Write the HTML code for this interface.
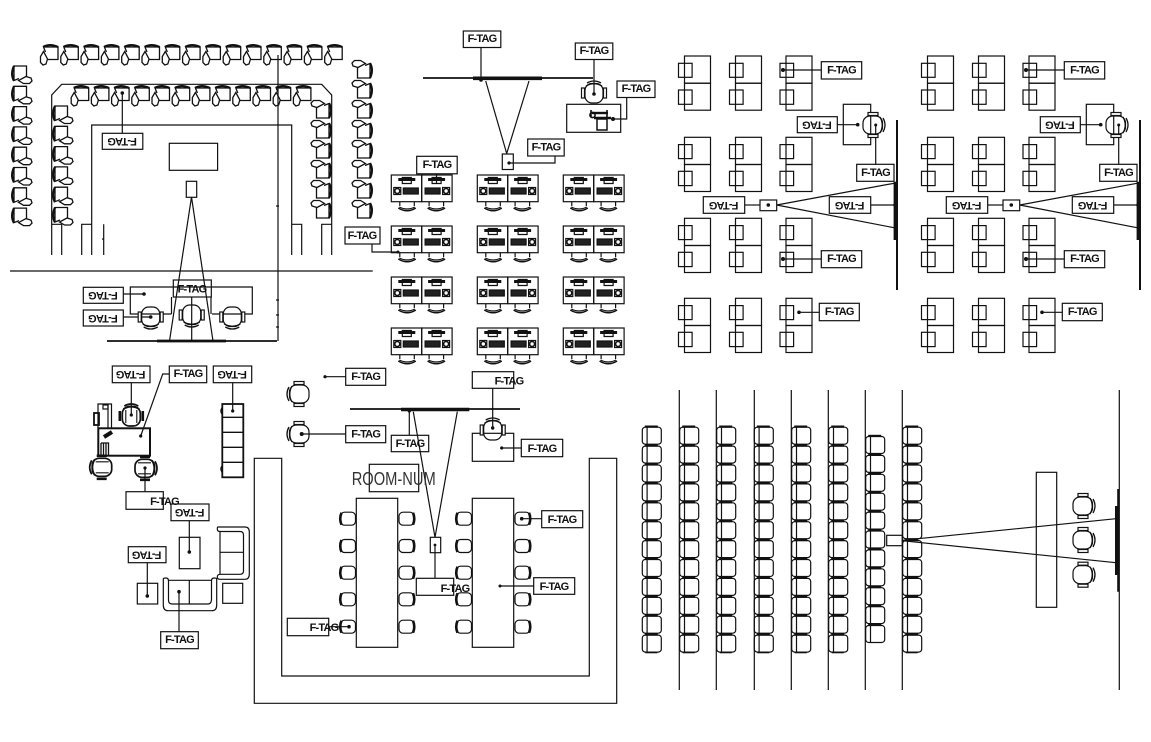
<!DOCTYPE html>
<html><head><meta charset="utf-8"><style>
html,body{margin:0;padding:0;background:#fff}
svg{display:block}
.l{fill:none;stroke:#111;stroke-width:1.2}
.t{font-family:"Liberation Sans",sans-serif;font-weight:700;font-size:11px;letter-spacing:-.8px;fill:#111;stroke:none;text-anchor:middle;dominant-baseline:middle}
.d{fill:#111;stroke:none}
</style></head><body>
<svg xmlns="http://www.w3.org/2000/svg" width="1151" height="742" viewBox="0 0 1151 742">
<defs>
<g id="ct" class="l" style="stroke-width:1.3"><path d="M3 3Q10 -.8 18 3" stroke-width="2.2"/><path d="M3.5 3L5.5 8M4 3H18V15.5H7.5"/><path d="M3.5 7.5L.5 12.5V18.5L3 21 6 20 7.5 15 3.5 7.5Z"/></g>
<g id="cl" transform="translate(0 20) rotate(-90)"><use href="#ct"/></g>
<g id="cr" transform="translate(20 0) rotate(90)"><use href="#ct"/></g>
<g id="cd" class="l"><rect x="-9" y="-10" width="18" height="19.5" rx="7"/><path d="M-8 7Q0 11.5 8 7M-7 10Q0 14 7 10" stroke-width="1.3"/><rect x="-12.5" y="-5" width="3" height="10" fill="#fff"/><rect x="9.5" y="-5" width="3" height="10" fill="#fff"/></g>
<g id="cdb" class="l" style="stroke-width:1.7"><rect x="-9" y="-10" width="18" height="19.5" rx="7"/><path d="M-5.5 -7V6M5.5 -7V6" stroke-width="1.1"/><path d="M-8 7Q0 11.5 8 7M-7 10Q0 14 7 10"/><path d="M-11.5 -5V5M11.5 -5V5" stroke-width="2.6"/></g>
<g id="sc" class="l"><rect x="-7" y="-6.5" width="15" height="13" rx="4"/><path d="M-6 -6Q-8.5 0 -6 6" stroke-width="2.6"/></g>
<g id="tc" class="l"><rect x="0" y="1.5" width="19" height="17" rx="3"/><path d="M4.8 1.5V18.5"/><path d="M2.5 .9H15.5" stroke-width="2.2"/></g>
<g id="col"><use href="#tc"/><use href="#tc" y="18.9"/><use href="#tc" y="37.8"/><use href="#tc" y="56.7"/><use href="#tc" y="75.6"/><use href="#tc" y="94.5"/><use href="#tc" y="113.4"/><use href="#tc" y="132.3"/><use href="#tc" y="151.2"/><use href="#tc" y="170.1"/><use href="#tc" y="189"/><use href="#tc" y="207.9"/><path class="l" d="M3 227H15" stroke-width="2.2"/></g>
<g id="dk" class="l"><rect width="30.4" height="26.7" x="0" y="0"/><path d="M7 4.5H24" stroke-width="3"/><path d="M11 8.5H20V2.5H11Z"/><rect x="12" y="13" width="15" height="6" fill="#222"/><rect x="2.5" y="12.5" width="7" height="7"/><circle cx="6" cy="16" r="2.5" stroke-width="1.6"/><path d="M8.5 27V31M23 27V31M8 32Q16 36 23.5 32"/><path d="M7 33Q16 38.5 24.5 33" stroke-width="1.5"/></g>
<g id="pair"><use href="#dk"/><g transform="translate(60.8 0) scale(-1 1)"><use href="#dk"/></g></g>
<g id="grp"><use href="#pair"/><use href="#pair" y="51"/><use href="#pair" y="102"/><use href="#pair" y="153"/></g>
<g id="sd" class="l"><rect x="0" y="0" width="26" height="27.2"/><rect x="0" y="27.2" width="26" height="27"/><rect x="-6" y="7.3" width="13.6" height="14"/><rect x="-6" y="34" width="13.6" height="14.3"/></g>
<g id="sdg"><use href="#sd" x="684.5" y="56"/><use href="#sd" x="735.5" y="56"/><use href="#sd" x="786" y="56"/><use href="#sd" x="684.5" y="137.3"/><use href="#sd" x="735.5" y="137.3"/><use href="#sd" x="786" y="137.3"/><use href="#sd" x="684.5" y="218.3"/><use href="#sd" x="735.5" y="218.3"/><use href="#sd" x="786" y="218.3"/><use href="#sd" x="684.5" y="298.3"/><use href="#sd" x="735.5" y="298.3"/><use href="#sd" x="786" y="298.3"/></g>
</defs>
<rect width="1151" height="742" fill="#fff"/>

<!-- Section A -->
<use href="#ct" x="40" y="44"/><use href="#ct" x="60.3" y="44"/><use href="#ct" x="80.6" y="44"/><use href="#ct" x="100.9" y="44"/><use href="#ct" x="121.2" y="44"/><use href="#ct" x="141.5" y="44"/><use href="#ct" x="161.8" y="44"/><use href="#ct" x="182.1" y="44"/><use href="#ct" x="202.4" y="44"/><use href="#ct" x="222.7" y="44"/><use href="#ct" x="243" y="44"/><use href="#ct" x="263.3" y="44"/><use href="#ct" x="283.6" y="44"/><use href="#ct" x="303.9" y="44"/><use href="#ct" x="324.2" y="44"/>
<use href="#ct" x="70.7" y="85"/><use href="#ct" x="90.9" y="85"/><use href="#ct" x="111.1" y="85"/><use href="#ct" x="131.3" y="85"/><use href="#ct" x="151.5" y="85"/><use href="#ct" x="171.7" y="85"/><use href="#ct" x="191.9" y="85"/><use href="#ct" x="212.1" y="85"/><use href="#ct" x="232.3" y="85"/><use href="#ct" x="252.5" y="85"/><use href="#ct" x="272.7" y="85"/><use href="#ct" x="292.9" y="85"/>
<use href="#cl" x="11" y="64"/><use href="#cl" x="11" y="84.3"/><use href="#cl" x="11" y="104.6"/><use href="#cl" x="11" y="124.9"/><use href="#cl" x="11" y="145.2"/><use href="#cl" x="11" y="165.5"/><use href="#cl" x="11" y="185.8"/><use href="#cl" x="11" y="206.1"/>
<use href="#cl" x="52" y="104"/><use href="#cl" x="52" y="124.3"/><use href="#cl" x="52" y="144.6"/><use href="#cl" x="52" y="164.9"/><use href="#cl" x="52" y="185.2"/><use href="#cl" x="52" y="205.5"/>
<use href="#cr" x="312" y="100"/><use href="#cr" x="312" y="120"/><use href="#cr" x="312" y="140"/><use href="#cr" x="312" y="160"/><use href="#cr" x="312" y="180"/><use href="#cr" x="312" y="200"/>
<use href="#cr" x="353" y="60"/><use href="#cr" x="353" y="80"/><use href="#cr" x="353" y="100"/><use href="#cr" x="353" y="120"/><use href="#cr" x="353" y="140"/><use href="#cr" x="353" y="160"/><use href="#cr" x="353" y="180"/><use href="#cr" x="353" y="200"/>
<g class="l">
<path d="M51.7 255V95L61.7 84.3H321.7L331.7 95V255"/>
<path d="M91.7 255V125H291.7V255"/>
<path d="M81.7 255V224.3H91.7M51.7 224.3H61.7V255M103.7 224.3V255M102 239H104M291.7 224.3H301.7V255M321.7 255V224.3H331.7"/>
<path d="M10 271H372.7"/>
<path d="M278 55V341M276 206H279M276 300H279M276 315H279M276 327H279"/>
<path d="M107 341H277" stroke-width="1.8"/><path d="M157 341H226" stroke-width="2.8"/>
<rect x="169.3" y="143.3" width="48.3" height="27"/>
<rect x="186.3" y="181.3" width="10.4" height="16"/>
<path d="M191.5 197L169.5 341M191.5 197L213 341M191.7 297V341"/>
<path d="M171.5 314H130.3V287H252.3V314H212M171.5 297V314M211 297V314"/>
<rect x="173.3" y="280" width="38" height="17" fill="none"/>
<rect x="83.3" y="287.3" width="40" height="16"/><rect x="83.3" y="310" width="40" height="16"/>
<path d="M123.3 294H144M123.3 317H150.7"/>
<rect x="102.3" y="133.3" width="40.5" height="16"/><path d="M122.3 133V93"/>
<rect x="345" y="227" width="35" height="17"/><path d="M372 244V252H398"/>
</g>
<use href="#cd" x="150.7" y="317"/><use href="#cd" x="191.7" y="315"/><use href="#cd" x="232.3" y="317"/>
<circle class="d" cx="122.3" cy="93" r="1.8"/><circle class="d" cx="144" cy="294" r="1.8"/><circle class="d" cx="150.7" cy="317" r="1.8"/><circle class="d" cx="398" cy="252" r="1.5"/>
<text class="t" x="192" y="289.5">F-TAG</text>
<text class="t" x="362" y="236">F-TAG</text>
<text class="t" x="122.5" y="141.5" transform="rotate(180 122.5 141.3)">F-TAG</text>
<text class="t" x="103.3" y="295.5" transform="rotate(180 103.3 295.3)">F-TAG</text>
<text class="t" x="103.3" y="318.2" transform="rotate(180 103.3 318)">F-TAG</text>

<!-- Section B -->
<use href="#grp" x="391.3" y="175"/><use href="#grp" x="477.3" y="175"/><use href="#grp" x="563.3" y="175"/>
<g class="l">
<rect x="463.3" y="31" width="37.5" height="16.5"/><path d="M481 47.5V80"/>
<path d="M423 78H593" stroke-width="1.8"/><path d="M473 78.3H542" stroke-width="3.6"/>
<path d="M485.7 81L506.7 153.5M529 81L506.7 153.5"/>
<rect x="502.3" y="154" width="11" height="15.5"/><path d="M509 163H555V156"/>
<rect x="527.7" y="139" width="36.5" height="17"/>
<rect x="575.3" y="43" width="37.5" height="16.5"/><path d="M594 59.5V94"/>
<rect x="566.7" y="104.3" width="54" height="28"/>
<rect x="617" y="81" width="38" height="16.5"/><path d="M626.7 97.5V119H613"/>
<rect x="416.7" y="156.3" width="40.5" height="17.5"/><path d="M436.5 174V184"/>
<path d="M592 113H608" stroke-width="2.4"/><path d="M591 110V117M607 110V117" stroke-width="1.6"/><path d="M594 118H611" stroke-width="2.6"/><path d="M597 119H607V130H597Z" stroke-width="1.5"/>
<circle cx="592.5" cy="115" r="2.6" stroke-width="1.6"/>
</g>
<use href="#cd" transform="translate(594 93) rotate(180)"/>
<circle class="d" cx="481" cy="80" r="1.8"/><circle class="d" cx="594" cy="94" r="1.8"/><circle class="d" cx="509" cy="163" r="1.6"/><circle class="d" cx="613" cy="119" r="2"/>
<text class="t" x="482" y="39.3">F-TAG</text>
<text class="t" x="594" y="51.3">F-TAG</text>
<text class="t" x="636" y="89.3">F-TAG</text>
<text class="t" x="546" y="147.5">F-TAG</text>
<text class="t" x="437" y="165">F-TAG</text>

<!-- Section C -->
<use href="#sdg"/>
<g class="l">
<rect x="821.3" y="61.7" width="40.4" height="17.3"/><path d="M783 70H821.3"/>
<rect x="797.3" y="116.7" width="40" height="16"/><path d="M837.3 124.7H857.7"/>
<rect x="843.3" y="104.3" width="27.4" height="40.4"/>
<path d="M875.7 125V164.3"/><rect x="856.7" y="164.3" width="37.3" height="17"/>
<path d="M897 120V290" stroke-width="2"/><path d="M895.3 181.7V240" stroke-width="3.4"/>
<path d="M776.7 205L894 183.3M776.7 205L894 227.7"/>
<rect x="760" y="200" width="16.7" height="10.7"/><path d="M744.7 205H760"/>
<rect x="703.3" y="196.7" width="41.4" height="16.6"/>
<rect x="829.3" y="196.7" width="41.4" height="16.6"/><path d="M870.7 205H895"/>
<rect x="821.3" y="250.7" width="40.4" height="17"/><path d="M783 259H821.3"/>
<rect x="819.3" y="303.3" width="40" height="17.4"/><path d="M799 312.3H819.3"/>
</g>
<use href="#cd" transform="translate(873 125) rotate(-90)"/>
<circle class="d" cx="783" cy="70" r="2"/><circle class="d" cx="857.7" cy="124.7" r="1.8"/><circle class="d" cx="875.7" cy="125" r="1.5"/><circle class="d" cx="768.3" cy="205" r="1.8"/><circle class="d" cx="895" cy="205" r="1.8"/><circle class="d" cx="783" cy="259" r="2"/><circle class="d" cx="799" cy="312.3" r="1.8"/>
<text class="t" x="841.5" y="70.5">F-TAG</text>
<text class="t" x="875.5" y="173">F-TAG</text>
<text class="t" x="841.5" y="259.3">F-TAG</text>
<text class="t" x="839.3" y="312.2">F-TAG</text>
<text class="t" x="817.3" y="124.9" transform="rotate(180 817.3 124.7)">F-TAG</text>
<text class="t" x="724" y="205.2" transform="rotate(180 724 205)">F-TAG</text>
<text class="t" x="850" y="205.2" transform="rotate(180 850 205)">F-TAG</text>

<!-- Section D -->
<use href="#sdg" x="243"/>
<g transform="translate(243 0)">
<g class="l">
<rect x="821.3" y="61.7" width="40.4" height="17.3"/><path d="M783 70H821.3"/>
<rect x="797.3" y="116.7" width="40" height="16"/><path d="M837.3 124.7H857.7"/>
<rect x="843.3" y="104.3" width="27.4" height="40.4"/>
<path d="M875.7 125V164.3"/><rect x="856.7" y="164.3" width="37.3" height="17"/>
<path d="M897 120V290" stroke-width="2"/><path d="M895.3 181.7V240" stroke-width="3.4"/>
<path d="M776.7 205L894 183.3M776.7 205L894 227.7"/>
<rect x="760" y="200" width="16.7" height="10.7"/><path d="M744.7 205H760"/>
<rect x="703.3" y="196.7" width="41.4" height="16.6"/>
<rect x="829.3" y="196.7" width="41.4" height="16.6"/><path d="M870.7 205H895"/>
<rect x="821.3" y="250.7" width="40.4" height="17"/><path d="M783 259H821.3"/>
<rect x="819.3" y="303.3" width="40" height="17.4"/><path d="M799 312.3H819.3"/>
</g>
<use href="#cd" transform="translate(873 125) rotate(-90)"/>
<circle class="d" cx="783" cy="70" r="2"/><circle class="d" cx="857.7" cy="124.7" r="1.8"/><circle class="d" cx="875.7" cy="125" r="1.5"/><circle class="d" cx="768.3" cy="205" r="1.8"/><circle class="d" cx="895" cy="205" r="1.8"/><circle class="d" cx="783" cy="259" r="2"/><circle class="d" cx="799" cy="312.3" r="1.8"/>
<text class="t" x="841.5" y="70.5">F-TAG</text>
<text class="t" x="875.5" y="173">F-TAG</text>
<text class="t" x="841.5" y="259.3">F-TAG</text>
<text class="t" x="839.3" y="312.2">F-TAG</text>
<text class="t" x="817.3" y="124.9" transform="rotate(180 817.3 124.7)">F-TAG</text>
<text class="t" x="724" y="205.2" transform="rotate(180 724 205)">F-TAG</text>
<text class="t" x="850" y="205.2" transform="rotate(180 850 205)">F-TAG</text>
</g>

<!-- Section E -->
<g class="l">
<rect x="112.3" y="366" width="37.7" height="16.7"/><path d="M131.3 382.7V415"/>
<rect x="169.3" y="366" width="37.4" height="16.7"/><path d="M169.3 374H162.7L140.7 436"/>
<rect x="98.3" y="428.3" width="51.7" height="27.4" stroke-width="2"/>
<path d="M98 428V404H111.5V428M108 404V428"/><rect x="94" y="413" width="5" height="12" stroke-width="1.8"/><rect x="103" y="405" width="5" height="4"/>
<path d="M101 443H108.5V455M101 443V455M103.5 443V455M106 443V455" stroke-width="1.3"/>
<path d="M104 437L112 432" stroke-width="4"/>
<path d="M145 468V491.7"/><rect x="126" y="491.7" width="37.3" height="17.6"/>
<rect x="213.3" y="366" width="38.4" height="16.7"/><path d="M232.7 382.7V411"/>
<rect x="222.3" y="404" width="21" height="73.3" stroke-width="1.8"/><path d="M222.3 417.3H243.3M222.3 432.3H243.3M222.3 447.3H243.3M222.3 462.3H243.3" stroke-width="1.4"/>
<path d="M222 408Q220 411 222 414M222 466Q220 469 222 472" stroke-width="1.5"/>
<rect x="171" y="504" width="38" height="16.7"/><path d="M189.3 520.7V552"/>
<rect x="179.3" y="537.3" width="20.7" height="31.4"/>
<rect x="128.3" y="546.7" width="37.7" height="16"/><path d="M147.3 562.7V596"/>
<rect x="137.3" y="583.3" width="20.4" height="20.7"/>
<path d="M163.3 579V605Q163.3 610.7 168 610.7H212Q216.7 610.7 216.7 605V579Q216.7 578 214 578Q211.5 578 211.5 581V600Q211 604 208 604H172Q168.5 604 168.5 600V581Q168.5 578 166 578Q163.3 578 163.3 579Z"/>
<path d="M168.5 580.3H211.5M189.3 580.3V604"/>
<path d="M218 527H245Q249.3 527 249.3 532V574Q249.3 579.3 245 579.3H220Q217.3 579.3 217.3 577Q217.3 574.3 220 574.3H240Q243.5 574.3 243.5 571V535Q243.5 531.5 240 531.5H220Q217.3 531.5 217.3 529Q217.3 527 218 527Z"/>
<path d="M220 531.5V574.3M220 552.3H243.5"/>
<rect x="222.7" y="583.3" width="20" height="20"/>
<path d="M179 591.7V631.7"/><rect x="160.7" y="631.7" width="37.6" height="17"/>
</g>
<use href="#cdb" transform="translate(131.3 416) rotate(180)"/><use href="#cdb" transform="translate(101.7 467.3) rotate(90)"/><use href="#cdb" transform="translate(145 468.3) rotate(-90)"/>
<circle class="d" cx="131.3" cy="415" r="1.6"/><circle class="d" cx="140.7" cy="436" r="1.6"/><circle class="d" cx="145" cy="468" r="1.6"/><circle class="d" cx="232.7" cy="411" r="1.6"/><circle class="d" cx="189.3" cy="552" r="1.8"/><circle class="d" cx="147.3" cy="596" r="1.8"/><circle class="d" cx="179" cy="591.7" r="1.8"/>
<text class="t" x="188" y="374.3">F-TAG</text>
<text class="t" x="164.5" y="502">F-TAG</text>
<text class="t" x="179.5" y="640">F-TAG</text>
<text class="t" x="131" y="374.5" transform="rotate(180 131 374.3)">F-TAG</text>
<text class="t" x="232.5" y="374.5" transform="rotate(180 232.5 374.3)">F-TAG</text>
<text class="t" x="190" y="512.5" transform="rotate(180 190 512.3)">F-TAG</text>
<text class="t" x="147" y="554.9" transform="rotate(180 147 554.7)">F-TAG</text>

<!-- Section F -->
<g class="l">
<rect x="345.7" y="368.3" width="40" height="17"/><path d="M325 376.7H345.7"/>
<rect x="345.7" y="425.7" width="40" height="17"/><path d="M301.7 434H345.7"/>
<path d="M350 409H520" stroke-width="1.8"/><path d="M401 409.5H469.3" stroke-width="3.4"/>
<rect x="391.3" y="435.3" width="37.4" height="16.4"/><path d="M409.3 410V435.3"/>
<path d="M413.3 411.7L435 537.3M457.3 411.7L435 537.3"/>
<rect x="430.3" y="537.3" width="10.4" height="15.4"/><path d="M435 545V578.3"/>
<rect x="416.3" y="578.3" width="37.4" height="17"/>
<rect x="472.3" y="371.7" width="41.4" height="16.6"/><path d="M492.7 388V428"/>
<rect x="472.3" y="433.3" width="41.4" height="28"/><path d="M501.7 448H521.3"/>
<rect x="521.3" y="439.3" width="41.4" height="17.4"/>
<rect x="369.3" y="464.3" width="49.4" height="27.4"/>
<path d="M281.7 458.3H254.3V703.3H616.7V458.3H589.3V676H281.7Z"/>
<rect x="356.3" y="498.3" width="41.4" height="149"/><rect x="472.3" y="498.3" width="41.4" height="149"/>
<rect x="541.7" y="510.7" width="41" height="17"/><path d="M521.7 518.7H541.7"/>
<rect x="533.7" y="577.7" width="41" height="16.6"/><path d="M500 586H533.7"/>
<rect x="287.3" y="618.3" width="41.4" height="17.4"/><path d="M328.7 626.7H349"/>
</g>
<use href="#cd" transform="translate(299 394) rotate(90)"/><use href="#cd" transform="translate(299 434) rotate(90)"/><use href="#cd" transform="translate(492.7 430) rotate(180)"/>
<use href="#sc" x="347.5" y="518.7"/><use href="#sc" x="347.5" y="546"/><use href="#sc" x="347.5" y="572.7"/><use href="#sc" x="347.5" y="599.3"/><use href="#sc" x="347.5" y="626.7"/>
<use href="#sc" x="463.5" y="518.7"/><use href="#sc" x="463.5" y="546"/><use href="#sc" x="463.5" y="572.7"/><use href="#sc" x="463.5" y="599.3"/><use href="#sc" x="463.5" y="626.7"/>
<use href="#sc" transform="translate(407 518.7) rotate(180)"/><use href="#sc" transform="translate(407 546) rotate(180)"/><use href="#sc" transform="translate(407 572.7) rotate(180)"/><use href="#sc" transform="translate(407 599.3) rotate(180)"/><use href="#sc" transform="translate(407 626.7) rotate(180)"/>
<use href="#sc" transform="translate(523 518.7) rotate(180)"/><use href="#sc" transform="translate(523 546) rotate(180)"/><use href="#sc" transform="translate(523 572.7) rotate(180)"/><use href="#sc" transform="translate(523 599.3) rotate(180)"/><use href="#sc" transform="translate(523 626.7) rotate(180)"/>
<circle class="d" cx="325" cy="376.7" r="1.6"/><circle class="d" cx="301.7" cy="434" r="2"/><circle class="d" cx="409.3" cy="411" r="1.6"/><circle class="d" cx="435" cy="545" r="1.4"/><circle class="d" cx="492.7" cy="428" r="1.7"/><circle class="d" cx="501.7" cy="448" r="1.6"/><circle class="d" cx="521.7" cy="518.7" r="1.8"/><circle class="d" cx="500" cy="586" r="1.5"/><circle class="d" cx="349" cy="626.7" r="1.8"/>
<text class="t" x="365.7" y="377">F-TAG</text>
<text class="t" x="365.7" y="434.5">F-TAG</text>
<text class="t" x="410" y="444">F-TAG</text>
<text class="t" x="455" y="589">F-TAG</text>
<text class="t" x="509" y="381.5">F-TAG</text>
<text class="t" x="542" y="449">F-TAG</text>
<text class="t" x="562" y="520">F-TAG</text>
<text class="t" x="554" y="587">F-TAG</text>
<text class="t" x="324" y="628">F-TAG</text>
<text x="351.7" y="485" textLength="84" lengthAdjust="spacingAndGlyphs" font-family="Liberation Sans, sans-serif" font-size="18.5" fill="#333">ROOM-NUM</text>

<!-- Section G -->
<g class="l">
<path d="M679.3 390V690M716.3 390V690M754.3 390V690M791.3 390V690M828.3 390V690M865.3 390V690M902.3 390V690M1119.3 390V690"/>
<rect x="886.7" y="535.3" width="15.6" height="10.4"/>
<path d="M902 540.3L1116 518.7M902 540.7L1116 562.7"/>
<rect x="1036.3" y="472.3" width="20.4" height="135"/>
<path d="M1118.3 489V591.7" stroke-width="2.2"/><path d="M1117 506V575" stroke-width="4"/>
</g>
<use href="#col" x="642.3" y="425.7"/><use href="#col" x="679.7" y="425.7"/><use href="#col" x="716.7" y="425.7"/><use href="#col" x="754.3" y="425.7"/><use href="#col" x="791.7" y="425.7"/><use href="#col" x="828.7" y="425.7"/><use href="#col" x="902.7" y="425.7"/>
<g transform="translate(865.7 435)"><use href="#tc"/><use href="#tc" y="18.9"/><use href="#tc" y="37.8"/><use href="#tc" y="56.7"/><use href="#tc" y="75.6"/><use href="#tc" y="94.5"/><use href="#tc" y="113.4"/><use href="#tc" y="132.3"/><use href="#tc" y="151.2"/><use href="#tc" y="170.1"/><use href="#tc" y="189"/></g>
<use href="#cd" transform="translate(1083 506) rotate(-90)"/><use href="#cd" transform="translate(1083 540) rotate(-90)"/><use href="#cd" transform="translate(1083 574.7) rotate(-90)"/>
</svg>
</body></html>
